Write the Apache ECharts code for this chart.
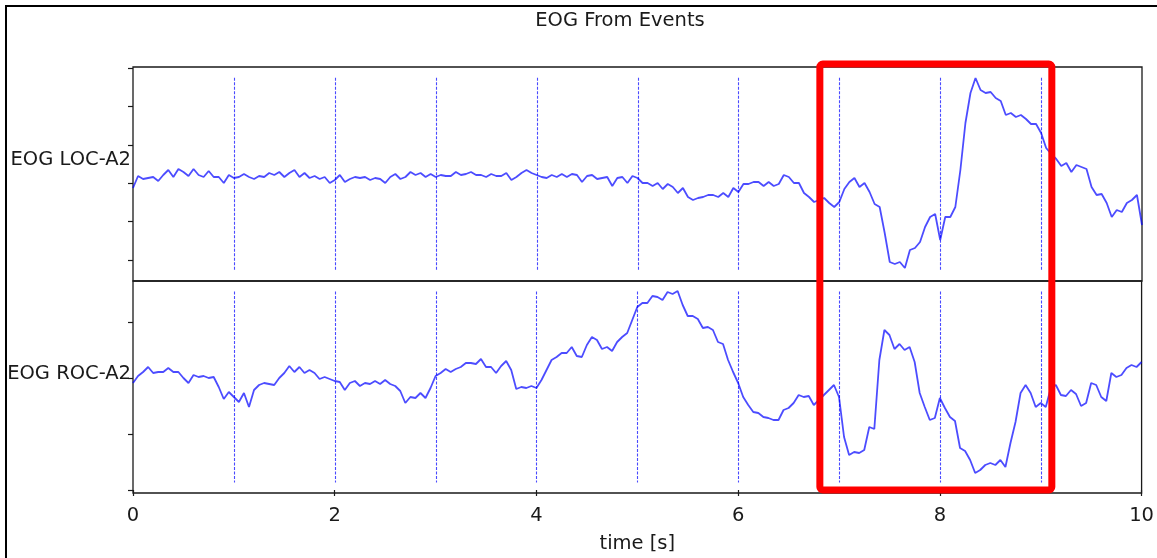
<!DOCTYPE html>
<html>
<head>
<meta charset="utf-8">
<script src="https://cdn.jsdelivr.net/npm/echarts@6/dist/echarts.min.js"></script>
<style>
  html, body { margin: 0; padding: 0; background: #ffffff; }
  #chart { width: 1157px; height: 558px; }
</style>
</head>
<body>
<div id="chart"></div>
<script>
// EOG channels sampled every 50 ms over 10 s (arbitrary amplitude units)
const sampleStep = 0.05;

const locA2 = [
  72, 84, 81, 82, 83, 79, 85, 90, 83, 91, 88, 84, 91, 85, 83, 89, 83, 83, 77, 85,
  82, 83, 86, 83, 81, 84, 83, 87, 85, 88, 83, 87, 90, 83, 87,
  82, 84, 81, 83, 77, 80, 85, 78, 81, 83, 82, 83, 80, 82, 81, 77, 83, 86, 81, 83,
  88, 85, 87, 83, 86, 83, 85, 84, 84, 88, 85, 86, 88,
  85, 85, 83, 86, 84, 84, 87, 80, 83, 87, 90, 87, 85, 83, 82, 85, 83, 86, 83, 86,
  85, 78, 84, 85, 81, 82, 83, 74, 82, 83, 77, 84, 82,
  77, 77, 74, 77, 71, 76, 73, 67, 72, 63, 60, 62, 63, 65, 65, 63, 67, 63, 72, 68,
  76, 76, 78, 78, 74, 78, 74, 76, 85, 83, 77, 77, 67,
  63, 58, 60, 62, 57, 53, 58, 71, 78, 82, 73, 77, 68, 56, 53, 27, -2, -4, -2, -8,
  10, 12, 18, 33, 43, 46, 20, 43, 43, 53, 90, 137, 167, 182,
  170, 167, 168, 162, 159, 145, 147, 143, 145, 141, 136, 136, 127, 112, 106, 101, 94, 97, 88, 95,
  93, 91, 73, 65, 66, 57, 43, 50, 48, 57, 60, 65, 35
];

const rocA2 = [
  107, 114, 118, 123, 117, 118, 118, 122, 118, 118, 112, 107, 115, 113, 114, 112, 113, 103, 91, 98,
  93, 88, 97, 83, 100, 105, 107, 106, 105, 112, 117, 124, 118, 123, 117,
  120, 117, 111, 113, 111, 109, 108, 100, 107, 109, 104, 107, 106, 109, 106, 110, 106, 104, 99, 87,
  93, 92, 97, 92, 102, 114, 117, 121, 118, 121, 123, 127, 127,
  126, 131, 123, 123, 117, 124, 129, 120, 101, 103, 102, 104, 102, 110, 120, 130, 133, 137, 137, 143,
  134, 133, 145, 153, 150, 141, 143, 139, 148, 153, 157, 170, 183,
  187, 187, 194, 193, 190, 198, 196, 199, 185, 174, 174, 171, 162, 163, 160, 148, 146, 130, 118, 107,
  93, 85, 78, 77, 73, 72, 70, 70, 80, 82, 87, 95, 93,
  94, 85, 90, 95, 100, 105, 93, 53, 35, 38, 37, 40, 63, 61, 130, 160, 155, 141, 146, 140,
  143, 128, 97, 83, 70, 72, 92, 82, 73, 69, 42, 39, 30, 17,
  20, 25, 27, 25, 30, 23, 47, 68, 97, 105, 97, 83, 87, 83, 102, 105, 95, 94, 100, 96,
  84, 87, 107, 105, 93, 89, 117, 113, 115, 122, 125, 123, 128
];

const channelNames = ['EOG LOC-A2', 'EOG ROC-A2'];
const eventTimes = [1, 2, 3, 4, 5, 6, 7, 8, 9];
const timeTicks = [0, 2, 4, 6, 8, 10];
const locTicks = [0, 38.4, 76.8, 115.2, 153.6, 192];
const rocTicks = [0, 56, 112, 168];
const locLabelAt = 100;
const rocLabelAt = 116;
const highlightWindow = [6.81, 9.11];

const FONT = 'DejaVu Sans';
const INK = '#1a1a1a';
const TRACE = 'rgba(0, 0, 255, 0.7)';

// panel layout
const plotLeft = 133, plotRight = 15;
const topPanel = { top: 67, height: 214 };
const bottomPanel = { top: 281, height: 212 };

const toSeries = arr => arr.map((v, i) => [+(i * sampleStep).toFixed(2), v]);

// dotted marker line at every event, inset 5% from the panel edges
function eventLines(idx) {
  return {
    type: 'custom',
    xAxisIndex: idx,
    yAxisIndex: idx,
    silent: true,
    z: 1,
    data: eventTimes.map(t => [t, 0]),
    encode: { x: 0, y: 1 },
    renderItem(params, api) {
      const cs = params.coordSys;
      const x = Math.round(api.coord([api.value(0), api.value(1)])[0]) + 0.5;
      return {
        type: 'line',
        shape: { x1: x, y1: cs.y + cs.height * 0.05, x2: x, y2: cs.y + cs.height * 0.95 },
        style: { stroke: '#4a4aff', lineWidth: 1.1, lineDash: [3, 1.5] }
      };
    }
  };
}

function yAxisFor(idx, min, max, ticks, labelAt) {
  return {
    type: 'value',
    gridIndex: idx,
    min: min,
    max: max,
    axisLine: { show: false },
    splitLine: { show: false },
    axisTick: {
      show: true, inside: false, length: 5,
      customValues: ticks,
      lineStyle: { color: INK, width: 1.2 }
    },
    axisLabel: {
      show: true,
      customValues: [labelAt],
      formatter: () => channelNames[idx],
      fontFamily: FONT, fontSize: 19.5, color: INK, margin: 2
    }
  };
}

const chart = echarts.init(document.getElementById('chart'), null, { renderer: 'canvas' });

chart.setOption({
  animation: false,
  backgroundColor: '#ffffff',
  grid: [
    { left: plotLeft, right: plotRight, top: topPanel.top, height: topPanel.height,
      show: true, borderColor: INK, borderWidth: 1.3, backgroundColor: 'transparent' },
    { left: plotLeft, right: plotRight, top: bottomPanel.top, height: bottomPanel.height,
      show: true, borderColor: INK, borderWidth: 1.3, backgroundColor: 'transparent' }
  ],
  xAxis: [
    { type: 'value', gridIndex: 0, min: 0, max: 10,
      axisLine: { show: false }, axisTick: { show: false },
      axisLabel: { show: false }, splitLine: { show: false } },
    { type: 'value', gridIndex: 1, min: 0, max: 10,
      name: 'time [s]', nameLocation: 'middle', nameGap: 41,
      nameTextStyle: { fontFamily: FONT, fontSize: 19.5, color: INK },
      axisLine: { show: false },
      axisTick: { show: true, length: 6, customValues: timeTicks, lineStyle: { color: INK, width: 1.2 } },
      axisLabel: { customValues: timeTicks, fontFamily: FONT, fontSize: 19.5, color: INK, margin: 13 },
      splitLine: { show: false } }
  ],
  yAxis: [
    yAxisFor(0, -21, 193, locTicks, locLabelAt),
    yAxisFor(1, -3, 209, rocTicks, rocLabelAt)
  ],
  series: [
    eventLines(0),
    eventLines(1),
    { type: 'line', name: channelNames[0], xAxisIndex: 0, yAxisIndex: 0,
      data: toSeries(locA2), showSymbol: false, symbol: 'none', z: 3,
      lineStyle: { color: TRACE, width: 1.8 } },
    { type: 'line', name: channelNames[1], xAxisIndex: 1, yAxisIndex: 1,
      data: toSeries(rocA2), showSymbol: false, symbol: 'none', z: 3,
      lineStyle: { color: TRACE, width: 1.8 } }
  ]
});

// Frame, title and the highlighted time window
const hx0 = chart.convertToPixel({ xAxisIndex: 1 }, highlightWindow[0]);
const hx1 = chart.convertToPixel({ xAxisIndex: 1 }, highlightWindow[1]);
const hTop = topPanel.top - 3;
const hBottom = bottomPanel.top + bottomPanel.height - 3;

chart.setOption({
  graphic: [
    { type: 'polyline', silent: true, z: 10,
      shape: { points: [[6, 558], [6, 6], [1157, 6]] },
      style: { stroke: '#000000', lineWidth: 2, fill: null } },
    { type: 'text', silent: true, z: 10, x: 620, y: 21,
      style: { text: 'EOG From Events', fontFamily: FONT, fontSize: 19.5, fill: INK,
               textAlign: 'center', textVerticalAlign: 'middle' } },
    { type: 'rect', silent: true, z: 20,
      shape: { x: hx0, y: hTop, width: hx1 - hx0, height: hBottom - hTop, r: 3 },
      style: { fill: null, stroke: '#ff0000', lineWidth: 7 } }
  ]
});
</script>
</body>
</html>
